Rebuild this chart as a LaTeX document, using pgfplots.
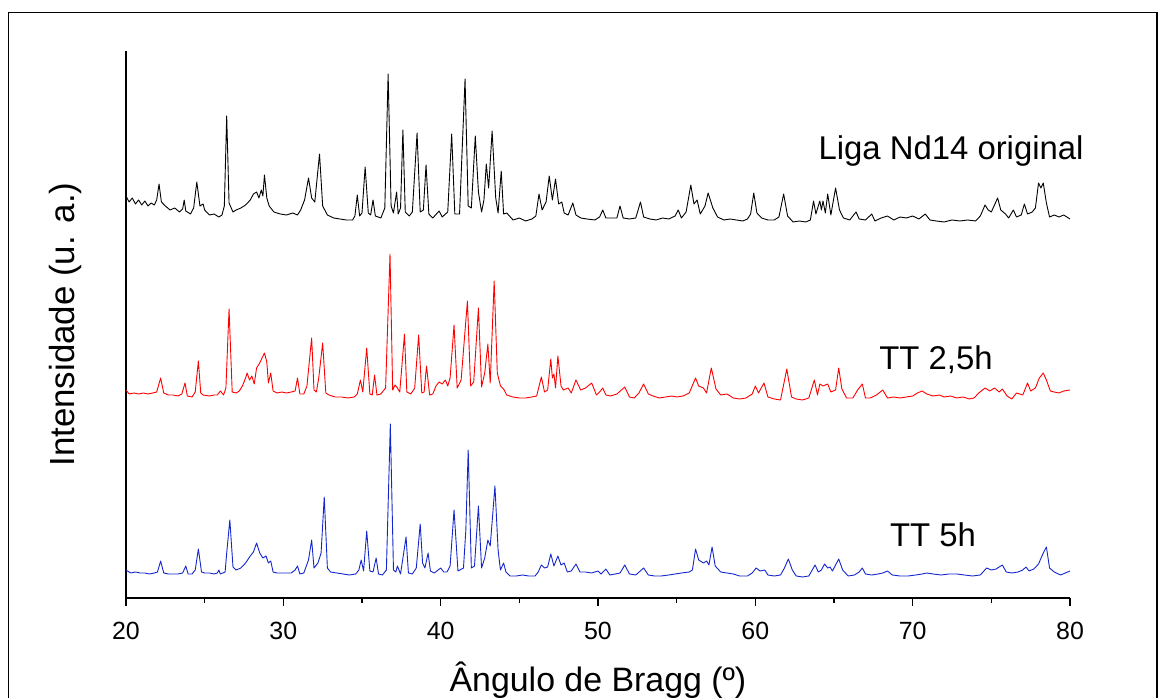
\documentclass[border=0pt]{standalone}
\usepackage{fontspec}
\setmainfont{Liberation Sans}
\usepackage{pgfplots}
\pgfplotsset{compat=1.18}
\definecolor{tblue}{rgb}{0.08,0.15,0.8}
\begin{document}
\begin{tikzpicture}
\useasboundingbox (0,0) rectangle (1161bp,698bp);
\draw[line width=1.3bp] (8.5bp,-20bp) -- (8.5bp,685.5bp) -- (1157bp,685.5bp) -- (1157bp,-20bp);
\begin{axis}[
  at={(126bp,100bp)}, anchor=south west,
  scale only axis, width=944bp, height=547bp,
  xmin=20, xmax=80, ymin=0, ymax=547,
  axis x line*=bottom, axis y line*=left,
  axis line style={line width=2.2bp},
  xtick={20,30,...,80}, minor x tick num=1,
  ytick=\empty,
  tick align=outside,
  major tick length=8bp, minor tick length=5bp,
  every tick/.style={line width=1.6bp, black},
  /pgf/number format/assume math mode=true,
  ticklabel style={font=\fontsize{25}{29}\selectfont},
  xticklabel style={yshift=-13bp},
  xlabel={Ângulo de Bragg (º)},
  ylabel={Intensidade (u. a.)},
  xlabel style={font=\fontsize{34}{40}\selectfont, at={(axis description cs:0.5,0)}, anchor=base, yshift=-93bp},
  ylabel style={font=\fontsize{35}{40}\selectfont, at={(axis description cs:0,0.5)}, anchor=base, yshift=51bp},
  clip=false,
  every axis plot/.append style={line width=0.9bp, line join=round},
]
% Liga Nd14 original (black)
\addplot[black] coordinates {
(20.0,402) (20.2,396) (20.4,400) (20.6,394) (20.8,398) (21.0,393) (21.2,397) (21.4,392) (21.6,395) (21.8,393) (21.95,398) (22.1,414) (22.25,396) (22.5,392) (22.8,388) (23.1,390) (23.4,386) (23.6,389) (23.7,398) (23.8,387) (24.1,384) (24.3,390) (24.5,416) (24.7,392) (24.9,394) (25.0,388) (25.3,383) (25.6,384) (25.9,381) (26.1,383) (26.25,392) (26.4,482) (26.55,395) (26.8,386) (27.0,388) (27.3,390) (27.6,393) (27.9,398) (28.1,404) (28.3,406) (28.45,400) (28.6,408) (28.7,402) (28.8,423) (28.95,400) (29.1,392) (29.4,386) (29.8,384) (30.2,383) (30.6,385) (30.9,383) (31.1,388) (31.35,398) (31.6,420) (31.8,400) (32.0,396) (32.3,444) (32.5,392) (32.8,383) (33.2,380) (33.6,379) (34.0,378) (34.4,378) (34.55,382) (34.7,403) (34.85,382) (35.0,385) (35.2,431) (35.4,385) (35.55,383) (35.7,398) (35.85,382) (36.2,380) (36.45,390) (36.66,524) (36.85,392) (37.0,385) (37.2,406) (37.3,384) (37.45,390) (37.6,468) (37.75,386) (38.0,382) (38.2,386) (38.5,465) (38.7,386) (38.9,388) (39.07,433) (39.25,384) (39.5,380) (39.9,387) (40.1,381) (40.45,386) (40.7,464) (40.9,384) (41.2,384) (41.55,519) (41.75,392) (41.95,390) (42.2,462) (42.4,406) (42.6,386) (42.75,398) (42.9,434) (43.05,410) (43.27,467) (43.5,400) (43.65,385) (43.85,427) (44.0,384) (44.2,385) (44.6,378) (45.0,380) (45.4,377) (45.8,379) (46.05,382) (46.25,404) (46.45,388) (46.7,396) (46.9,422) (47.1,398) (47.3,419) (47.5,394) (47.7,396) (47.85,385) (48.1,383) (48.4,395) (48.6,383) (48.9,380) (49.3,379) (49.8,378) (50.1,381) (50.3,388) (50.5,380) (50.9,380) (51.2,380) (51.4,392) (51.6,380) (52.0,379) (52.4,380) (52.7,396) (52.9,381) (53.3,379) (53.7,378) (54.1,380) (54.5,379) (54.9,382) (55.1,388) (55.3,380) (55.6,386) (55.9,413) (56.1,394) (56.3,398) (56.5,384) (56.8,392) (57.0,405) (57.3,390) (57.6,381) (58.0,378) (58.4,379) (58.8,378) (59.2,377) (59.5,379) (59.7,384) (59.9,405) (60.1,385) (60.4,380) (60.8,378) (61.2,378) (61.5,381) (61.8,404) (62.05,382) (62.4,376) (62.8,377) (63.2,376) (63.5,378) (63.7,397) (63.85,384) (64.0,392) (64.1,397) (64.2,388) (64.3,397) (64.45,385) (64.6,404) (64.8,383) (65.1,410) (65.35,388) (65.6,380) (66.0,378) (66.4,386) (66.6,379) (67.0,378) (67.4,384) (67.6,377) (68.0,380) (68.4,382) (68.8,378) (69.2,381) (69.6,380) (70.0,382) (70.4,379) (70.8,384) (71.1,378) (71.5,377) (72.0,376) (72.5,378) (73.0,377) (73.5,378) (74.0,377) (74.3,382) (74.6,393) (74.8,388) (75.0,386) (75.4,400) (75.6,388) (75.9,384) (76.1,380) (76.4,388) (76.6,381) (76.9,383) (77.1,394) (77.3,384) (77.6,386) (77.8,390) (78.0,415) (78.15,410) (78.3,415) (78.5,395) (78.7,381) (79.0,383) (79.3,381) (79.6,383) (80.0,379)
};
% TT 2,5h (red)
\addplot[red] coordinates {
(20.0,208) (20.2,204) (20.5,205) (20.8,204) (21.1,205) (21.4,204) (21.7,205) (21.95,206) (22.2,220) (22.4,205) (22.7,203) (23.0,203) (23.3,202) (23.55,204) (23.75,215) (23.9,202) (24.2,201) (24.4,206) (24.6,237) (24.75,205) (24.9,203) (25.3,202) (25.6,203) (25.8,203) (26.0,207) (26.2,203) (26.35,210) (26.55,289) (26.75,206) (27.0,205) (27.2,207) (27.4,212) (27.6,220) (27.7,225) (27.85,218) (28.0,222) (28.15,214) (28.3,230) (28.5,235) (28.65,240) (28.8,245) (28.95,236) (29.05,215) (29.2,225) (29.35,207) (29.6,205) (29.9,206) (30.2,205) (30.5,206) (30.75,207) (30.9,220) (31.05,204) (31.3,204) (31.5,212) (31.8,260) (31.95,208) (32.1,206) (32.25,220) (32.5,255) (32.7,205) (32.9,203) (33.3,201) (33.7,201) (34.1,200) (34.5,201) (34.7,204) (34.9,218) (35.05,206) (35.3,250) (35.5,204) (35.65,203) (35.8,223) (35.95,203) (36.2,204) (36.5,210) (36.78,344) (36.95,208) (37.1,213) (37.25,210) (37.4,206) (37.7,264) (37.85,206) (38.1,204) (38.35,210) (38.6,263) (38.8,205) (38.95,206) (39.1,232) (39.3,203) (39.5,204) (39.7,212) (39.9,216) (40.1,214) (40.3,218) (40.45,212) (40.6,220) (40.85,273) (41.05,210) (41.3,218) (41.7,297) (41.9,212) (42.1,216) (42.4,290) (42.6,211) (42.8,225) (43.0,254) (43.15,215) (43.4,317) (43.6,225) (43.8,212) (44.0,209) (44.2,203) (44.6,201) (45.0,200) (45.4,200) (45.8,201) (46.1,202) (46.4,221) (46.6,206) (46.8,208) (47.0,239) (47.1,220) (47.2,224) (47.3,210) (47.45,242) (47.65,212) (47.8,208) (48.1,210) (48.3,205) (48.6,218) (48.9,208) (49.2,210) (49.6,215) (49.9,203) (50.1,206) (50.3,210) (50.5,203) (50.8,202) (51.2,204) (51.7,211) (52.0,201) (52.3,200) (52.6,205) (52.9,214) (53.2,204) (53.5,202) (53.9,200) (54.3,201) (54.7,202) (55.0,201) (55.4,202) (55.8,205) (56.2,220) (56.4,212) (56.7,210) (56.9,205) (57.2,230) (57.5,209) (57.8,203) (58.2,204) (58.6,200) (59.0,199) (59.4,200) (59.8,204) (60.0,212) (60.2,205) (60.55,215) (60.8,201) (61.2,199) (61.6,198) (62.0,229) (62.3,201) (62.6,199) (63.0,198) (63.4,200) (63.75,218) (63.95,203) (64.1,214) (64.3,212) (64.6,214) (64.8,206) (65.1,208) (65.3,230) (65.5,209) (65.8,200) (66.2,200) (66.5,208) (66.8,214) (67.0,200) (67.3,200) (67.7,203) (68.1,208) (68.4,200) (68.8,201) (69.2,200) (69.6,201) (70.0,202) (70.3,205) (70.6,207) (70.9,204) (71.3,202) (71.7,203) (72.0,201) (72.4,202) (72.8,200) (73.2,201) (73.6,199) (73.9,200) (74.2,205) (74.6,210) (74.9,207) (75.2,210) (75.5,206) (75.7,209) (76.0,202) (76.3,199) (76.6,205) (77.0,203) (77.3,215) (77.5,207) (77.8,210) (78.05,220) (78.3,225) (78.5,218) (78.75,207) (79.0,206) (79.3,205) (79.6,207) (80.0,208)
};
% TT 5h (blue)
\addplot[tblue] coordinates {
(20.0,28) (20.3,25) (20.6,26) (20.9,25) (21.2,25) (21.5,24) (21.8,25) (22.0,26) (22.2,37) (22.4,25) (22.7,24) (23.0,24) (23.3,24) (23.6,25) (23.8,32) (23.95,24) (24.2,24) (24.4,28) (24.6,49) (24.8,26) (25.0,25) (25.3,25) (25.6,24) (25.8,25) (25.9,28) (26.0,24) (26.3,26) (26.4,45) (26.6,78) (26.8,31) (27.0,28) (27.3,30) (27.6,35) (27.9,42) (28.1,46) (28.3,55) (28.5,45) (28.7,40) (28.9,42) (29.05,35) (29.2,37) (29.35,26) (29.6,25) (29.9,25) (30.2,25) (30.5,25) (30.75,28) (30.9,32) (31.05,24) (31.3,25) (31.6,38) (31.8,58) (31.95,30) (32.2,35) (32.4,45) (32.6,101) (32.8,30) (33.0,26) (33.4,25) (33.8,24) (34.2,23) (34.6,24) (34.8,28) (34.95,38) (35.1,27) (35.3,67) (35.5,27) (35.7,26) (35.9,40) (36.05,24) (36.3,23) (36.55,28) (36.8,174) (37.0,28) (37.15,26) (37.25,32) (37.45,24) (37.8,61) (37.95,25) (38.2,24) (38.45,30) (38.7,74) (38.85,35) (39.0,30) (39.2,45) (39.35,27) (39.6,25) (40.0,30) (40.2,26) (40.4,26) (40.6,32) (40.85,88) (41.1,27) (41.45,30) (41.6,68) (41.75,148) (41.95,30) (42.15,32) (42.4,92) (42.6,30) (42.8,40) (43.0,58) (43.15,52) (43.45,112) (43.65,48) (43.8,28) (44.0,35) (44.15,26) (44.4,22) (44.8,22) (45.2,23) (45.6,22) (46.0,22) (46.2,26) (46.4,33) (46.6,30) (46.8,31) (47.0,44) (47.2,32) (47.45,42) (47.65,33) (47.85,35) (48.05,26) (48.3,27) (48.6,34) (48.85,26) (49.2,26) (49.6,25) (50.0,27) (50.2,24) (50.5,29) (50.75,23) (51.1,24) (51.4,25) (51.7,33) (52.0,24) (52.4,23) (52.9,30) (53.2,23) (53.6,22) (54.0,22) (54.5,23) (54.9,24) (55.3,25) (55.8,26) (56.0,28) (56.2,49) (56.4,38) (56.7,35) (56.9,37) (57.05,33) (57.25,51) (57.45,32) (57.8,26) (58.2,25) (58.6,24) (59.0,22) (59.5,22) (59.8,25) (60.05,30) (60.3,27) (60.6,28) (60.8,23) (61.2,22) (61.6,23) (61.85,30) (62.1,39) (62.35,28) (62.6,22) (63.0,21) (63.4,22) (63.8,33) (64.0,26) (64.2,28) (64.4,34) (64.6,30) (64.75,31) (64.9,27) (65.3,39) (65.55,28) (65.9,22) (66.3,23) (66.6,26) (66.8,30) (67.0,24) (67.4,23) (67.8,24) (68.1,25) (68.4,27) (68.7,23) (69.2,22) (69.7,22) (70.2,23) (70.6,24) (70.9,25) (71.3,24) (71.8,23) (72.3,24) (72.8,24) (73.3,23) (73.8,22) (74.3,23) (74.7,30) (75.0,28) (75.3,29) (75.7,33) (75.95,26) (76.3,25) (76.7,26) (77.0,28) (77.2,31) (77.4,27) (77.7,29) (78.0,34) (78.3,45) (78.5,51) (78.7,30) (79.0,26) (79.4,23) (79.7,25) (80.0,27)
};
\node[anchor=base, font=\fontsize{33}{38}\selectfont] at (axis cs:72.44,438) {Liga Nd14 original};
\node[anchor=base, font=\fontsize{33}{38}\selectfont] at (axis cs:71.48,228) {TT 2,5h};
\node[anchor=base, font=\fontsize{33}{38}\selectfont] at (axis cs:71.29,51) {TT 5h};
\end{axis}
\end{tikzpicture}
\end{document}
